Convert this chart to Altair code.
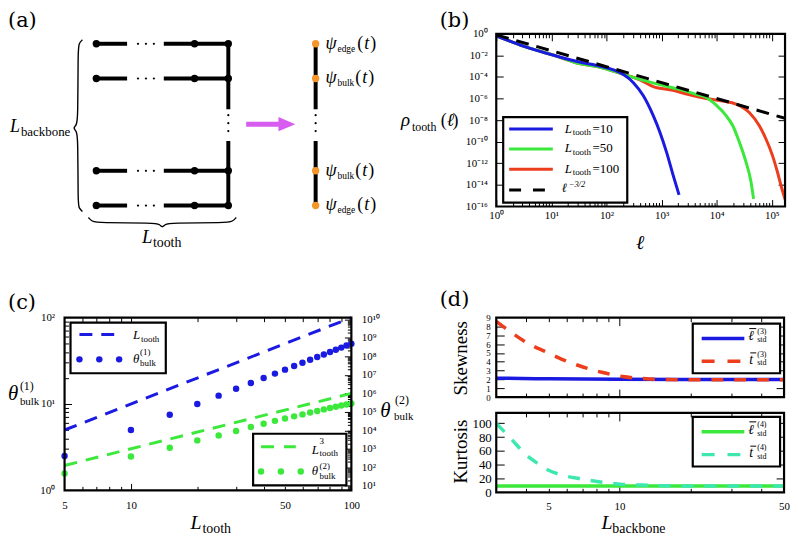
import altair as alt
import pandas as pd

# ---------------- panel (b): rho_tooth(ell) ----------------
ell_L10 = [1, 3.2, 12.8, 33.7, 77.3, 154, 203, 308, 467, 706, 931, 1230, 1618, 2075]
rho_L10 = [6.6e-1, 6.9e-2, 8.3e-3, 2.3e-3, 1.0e-3, 3.5e-4, 1.7e-4, 3.0e-5, 1.8e-6,
           2.6e-8, 7.8e-10, 1.1e-11, 8.1e-14, 1.2e-15]
ell_L50 = [1, 3.2, 12.8, 33.7, 77.3, 203, 406, 813, 1862, 4276, 6471, 9795, 14825,
           19498, 25763, 33963, 41879, 46666]
rho_L50 = [6.6e-1, 6.9e-2, 8.3e-3, 1.66e-3, 8.1e-4, 1.74e-4, 6.0e-5, 2.4e-5, 8.3e-6,
           2.5e-6, 1.26e-6, 2.45e-7, 2.6e-8, 3.2e-9, 9.3e-11, 1.35e-12, 2.0e-14, 5.1e-16]
ell_L100 = [1, 3.2, 12.8, 33.7, 77.3, 203, 406, 706, 1618, 3236, 6471, 12882, 22439,
            38994, 59020, 77983, 102565, 126183, 151356, 178649]
rho_L100 = [6.6e-1, 6.9e-2, 8.3e-3, 1.66e-3, 8.1e-4, 1.74e-4, 5.5e-5, 1.29e-5, 5.9e-6,
            2.2e-6, 1.02e-6, 5.8e-7, 3.1e-7, 5.2e-8, 3.2e-9, 1.9e-10, 5.5e-12, 1.66e-13,
            4.9e-15, 3.2e-16]
ell_ref = [1, 173780]
rho_ref = [0.81, 1.5e-8]
legend_b = ["=10", "=50", "=100"]

# ---------------- panel (c): theta_bulk vs L_tooth ----------------
L_tooth_c = [5, 10, 15, 20, 25, 30, 35, 40, 45, 50, 55, 60, 65, 70, 75, 80, 85, 90, 95, 100]
theta1_bulk = [2.5, 5.0, 7.5, 10, 12.5, 15, 17.5, 20, 22.5, 25, 27.5, 30, 32.5, 35, 37.5,
               40, 42.5, 45, 47.5, 50]
theta2_bulk = [46, 380, 1150, 2850, 5300, 9100, 15000, 22500, 32600, 43400, 56900, 72900,
               91200, 112000, 136000, 163000, 189000, 219000, 251000, 284000]
fit_x = [5, 100]
fit_L1 = [5, 100]
fit_L3 = [125, 1.0e6]

# ---------------- panel (d): skewness / kurtosis ----------------
Lb_t3 = [3.0, 3.5, 4.1, 4.9, 5.7, 7.0, 8.5, 10.3, 12.5, 15.2, 21, 30, 50]
t3_std = [8.58, 7.27, 6.07, 5.1, 4.28, 3.41, 2.78, 2.33, 2.1, 1.99, 1.96, 1.95, 1.95]
Lb_l3 = [3, 5, 10, 20, 50]
l3_std = [2.14, 2.07, 2.02, 2.0, 2.0]
Lb_t4 = [3.0, 3.5, 4.0, 4.4, 5.0, 5.7, 7.0, 8.5, 10.3, 12.5, 15.2, 20, 30, 50]
t4_std = [100, 76, 55, 44, 32, 25, 19, 14.4, 11.5, 10.5, 9.6, 9.2, 9.0, 9.0]
Lb_l4 = [3, 50]
l4_std = [9.3, 9.3]

# ---------------- panel (a): comb diagram (diagram units) ----------------
tooth_rows = [42, 77, 170, 205]
tooth_segments = [(97, 128), (165, 230)]
tooth_nodes_x = [97, 196, 230]
ellipsis_x = [139, 147, 155]
backbone_x = 230
chain_x = 318
spine_segments = [(42, 108), (140, 205)]
vdots_y = [114, 122, 130]
brace_v_x = [83, 79.5, 78.5, 78.5, 77, 73.5, 77, 78.5, 78.5, 79.5, 83]
brace_v_y = [38, 41.5, 48, 118, 124, 127, 130, 136, 203, 207.5, 211]
brace_h_x = [89, 92.5, 99, 156, 161, 163.5, 166, 171, 228, 234.5, 238]
brace_h_y = [217, 221, 222.5, 222.5, 224, 227.5, 224, 222.5, 222.5, 221, 217]
chain_labels = ["edge", "bulk", "bulk", "edge"]
arrow_x = [248, 283]
arrow_y = 123

# ---------------- styling ----------------
BLUE = "#1a1ae0"
GREEN = "#3be83b"
RED = "#ec3d1c"
CYAN = "#3de8b0"
ORANGE = "#f5962a"
MAGENTA = "#d75cf0"
SERIF = "Liberation Serif"
PFONT = "DejaVu Serif"

OX, OY = 65, 32       # page position of the layer origin
W, H = 726, 462

layers = []
ONE = pd.DataFrame({"k": [0]})
SUP = str.maketrans("0123456789-", "⁰¹²³⁴⁵⁶⁷⁸⁹⁻")

sax = alt.Scale(type="linear", domain=[OX, OX + W], range=[0, W], nice=False, zero=False)
say = alt.Scale(type="linear", domain=[OY, OY + H], range=[0, H], nice=False, zero=False)


def p10_expr(exps):
    e = "round(log(datum.value)/LN10)"
    parts = [f"{e} == {k} ? '10{str(k).translate(SUP)}'" for k in exps]
    return " : ".join(parts) + " : ''"


def T(px, py, s, size, italic=False, font=SERIF, align="left", baseline="alphabetic",
      angle=None, color="black"):
    kw = dict(text=s, fontSize=size, font=font, align=align, baseline=baseline, color=color)
    if italic:
        kw["fontStyle"] = "italic"
    if angle is not None:
        kw["angle"] = angle
    layers.append(alt.Chart(ONE).mark_text(**kw).encode(
        x=alt.value(px - OX), y=alt.value(py - OY)))


def RULE(px1, px2, py1, py2, color, width, dash=None):
    kw = dict(color=color, strokeWidth=width)
    if dash:
        kw["strokeDash"] = dash
    layers.append(alt.Chart(ONE).mark_rule(**kw).encode(
        x=alt.value(px1 - OX), x2=alt.value(px2 - OX),
        y=alt.value(py1 - OY), y2=alt.value(py2 - OY)))


def DOT(px, py, color, size):
    layers.append(alt.Chart(ONE).mark_circle(color=color, size=size, opacity=1).encode(
        x=alt.value(px - OX), y=alt.value(py - OY)))


def AX(ch, scale, orient, offset, values, tick=0, labels=False, size=11, pad=3,
       expr=None, fmt=None):
    kw = dict(orient=orient, offset=offset, values=values, grid=False, domain=False,
              labels=labels, labelOverlap=False, labelFlush=False)
    if tick > 0:
        kw.update(ticks=True, tickSize=tick, tickColor="black", tickWidth=1)
    else:
        kw.update(ticks=False, tickSize=0)
    if labels:
        kw.update(labelFont=SERIF, labelFontSize=size, labelColor="black", labelPadding=pad)
    if expr:
        kw["labelExpr"] = expr
    if fmt:
        kw["format"] = fmt
    df = pd.DataFrame({"v": [values[0]]})
    if ch == "x":
        enc = {"x": alt.X("v:Q", scale=scale, axis=alt.Axis(**kw), title=None)}
    else:
        enc = {"y": alt.Y("v:Q", scale=scale, axis=alt.Axis(**kw), title=None)}
    layers.append(alt.Chart(df).mark_point(opacity=0).encode(**enc))


def ticks_box(sx, sy, left, right, top, bottom, xmaj, xmin, ymaj, ymin, tmaj=7, tmin=4,
              y_left=True, y_right=True):
    for vals, t in ((xmaj, tmaj), (xmin, tmin)):
        if vals:
            AX("x", sx, "bottom", bottom - t - H, vals, tick=t)
            AX("x", sx, "top", -(top + t), vals, tick=t)
    for vals, t in ((ymaj, tmaj), (ymin, tmin)):
        if vals:
            if y_left:
                AX("y", sy, "left", -(left + t), vals, tick=t)
            if y_right:
                AX("y", sy, "right", right - t - W, vals, tick=t)


def OUTLINES(boxes, width=2.2, fill=False):
    """Closed rectangular outlines drawn as line paths (page coordinates)."""
    if fill:
        dfr = pd.DataFrame([{"x1": a, "y1": b, "x2": c, "y2": d} for a, b, c, d in boxes])
        layers.append(alt.Chart(dfr).mark_rect(color="white", opacity=1).encode(
            x=alt.X("x1:Q", scale=sax, axis=None), x2="x2:Q",
            y=alt.Y("y1:Q", scale=say, axis=None), y2="y2:Q"))
    pts = []
    for k, (a, b, c, d) in enumerate(boxes):
        for i, (x, y) in enumerate(((a, b), (c, b), (c, d), (a, d), (a, b))):
            pts.append({"x": x, "y": y, "i": i, "box": k})
    layers.append(alt.Chart(pd.DataFrame(pts)).mark_line(
        color="black", strokeWidth=width, strokeJoin="miter", strokeCap="square").encode(
        x=alt.X("x:Q", scale=sax, axis=None), y=alt.Y("y:Q", scale=say, axis=None),
        order="i:Q", detail="box:N"))


# ================= scales =================
sbx = alt.Scale(type="log", domain=[1, 10 ** 5.24], range=[435, 726], nice=False)
sby = alt.Scale(type="log", domain=[1e-16, 1], range=[174, 0], nice=False)
scx = alt.Scale(type="log", domain=[5, 100], range=[0, 289], nice=False)
scy = alt.Scale(type="log", domain=[1, 100], range=[460, 286], nice=False)
scy2 = alt.Scale(type="log", domain=[10 ** 0.75, 10 ** 10.1], range=[460, 286], nice=False)
sdx = alt.Scale(type="log", domain=[3, 50], range=[435, 725], nice=False)
sdy1 = alt.Scale(type="linear", domain=[0, 9], range=[366, 286], nice=False, zero=False)
sdy2 = alt.Scale(type="linear", domain=[0, 115], range=[462, 382], nice=False, zero=False)

# ================= axes: (b) =================
b_xmaj = [1, 10, 100, 1000, 1e4, 1e5]
b_xmin = [k * 10 ** e for e in range(0, 6) for k in range(2, 10) if k * 10 ** e < 10 ** 5.24]
b_ymaj = [10.0 ** -e for e in range(0, 17, 2)]
AX("x", sbx, "bottom", 174 - H, b_xmaj, labels=True, pad=3, expr=p10_expr(range(0, 6)))
AX("y", sby, "left", -435, b_ymaj, labels=True, pad=9, expr=p10_expr(range(-16, 1, 2)))
ticks_box(sbx, sby, 435, 726, 0, 174, b_xmaj, b_xmin, b_ymaj[1:-1], None)

# ================= axes: (c) =================
c_xmin = [6, 7, 8, 9, 20, 30, 40, 50, 60, 70, 80, 90]
c_ymin = [2, 3, 4, 5, 6, 7, 8, 9, 20, 30, 40, 50, 60, 70, 80, 90]
c_y2maj = [10.0 ** e for e in range(1, 11)]
c_y2min = [k * 10.0 ** e for e in range(0, 10) for k in range(2, 10)
           if 10 ** 0.75 < k * 10.0 ** e < 10 ** 10.1]
AX("x", scx, "bottom", 460 - H, [5, 10, 50, 100], labels=True, pad=9, fmt="d")
AX("y", scy, "left", 0, [1, 10, 100], labels=True, pad=10, expr=p10_expr([0, 1, 2]))
AX("y", scy2, "right", 289 - W, c_y2maj, labels=True, pad=10, expr=p10_expr(range(1, 11)))
ticks_box(scx, scy, 0, 289, 286, 460, [10], c_xmin, [10], c_ymin, y_right=False)
AX("y", scy2, "right", 289 - 7 - W, c_y2maj, tick=7)
AX("y", scy2, "right", 289 - 4 - W, c_y2min, tick=4)

# ================= axes: (d) =================
d_xmin = [4, 5, 6, 7, 8, 9, 20, 30, 40]
AX("x", sdx, "bottom", 0, [5, 10, 50], labels=True, pad=8, fmt="d")
AX("y", sdy1, "left", -435, list(range(0, 10)), labels=True, size=9, pad=6, fmt="d")
AX("y", sdy2, "left", -435, [0, 20, 40, 60, 80, 100], labels=True, size=13, pad=5, fmt="d")
ticks_box(sdx, sdy1, 435, 725, 286, 366, [10], d_xmin, list(range(1, 9)), None,
          tmaj=8, tmin=4)
ticks_box(sdx, sdy2, 435, 725, 382, 462, [10], d_xmin, [20, 40, 60, 80, 100], None,
          tmaj=8, tmin=4)

# ================= panel (a) diagram =================
seg_rows = []
for r in tooth_rows:
    for a, b in tooth_segments:
        seg_rows.append({"x1": a, "x2": b, "y1": r, "y2": r})
for xx in (backbone_x, chain_x):
    for a, b in spine_segments:
        seg_rows.append({"x1": xx, "x2": xx, "y1": a, "y2": b})
layers.append(alt.Chart(pd.DataFrame(seg_rows)).mark_rule(color="black", strokeWidth=4).encode(
    x=alt.X("x1:Q", scale=sax, axis=None), x2="x2:Q",
    y=alt.Y("y1:Q", scale=say, axis=None), y2="y2:Q"))

small = [{"x": x, "y": r} for r in tooth_rows for x in ellipsis_x]
small += [{"x": xx, "y": y} for xx in (backbone_x, chain_x) for y in vdots_y]
layers.append(alt.Chart(pd.DataFrame(small)).mark_circle(color="black", size=5, opacity=1).encode(
    x=alt.X("x:Q", scale=sax, axis=None), y=alt.Y("y:Q", scale=say, axis=None)))

nodes = [{"x": x, "y": r} for r in tooth_rows for x in tooth_nodes_x]
layers.append(alt.Chart(pd.DataFrame(nodes)).mark_circle(color="black", size=55, opacity=1).encode(
    x=alt.X("x:Q", scale=sax, axis=None), y=alt.Y("y:Q", scale=say, axis=None)))
onodes = [{"x": chain_x, "y": r} for r in tooth_rows]
layers.append(alt.Chart(pd.DataFrame(onodes)).mark_circle(color=ORANGE, size=55, opacity=1).encode(
    x=alt.X("x:Q", scale=sax, axis=None), y=alt.Y("y:Q", scale=say, axis=None)))

for bx_, by_ in ((brace_v_x, brace_v_y), (brace_h_x, brace_h_y)):
    dfb = pd.DataFrame({"x": bx_, "y": by_, "i": list(range(len(bx_)))})
    layers.append(alt.Chart(dfb).mark_line(color="black", strokeWidth=1.4, interpolate="basis").encode(
        x=alt.X("x:Q", scale=sax, axis=None), y=alt.Y("y:Q", scale=say, axis=None),
        order="i:Q"))

dfa = pd.DataFrame({"x1": [arrow_x[0]], "x2": [arrow_x[1]], "y": [arrow_y]})
layers.append(alt.Chart(dfa).mark_rule(color=MAGENTA, strokeWidth=5).encode(
    x=alt.X("x1:Q", scale=sax, axis=None), x2="x2:Q", y=alt.Y("y:Q", scale=say, axis=None)))
dfh = pd.DataFrame({"x": [arrow_x[1] + 6], "y": [arrow_y]})
layers.append(alt.Chart(dfh).mark_point(shape="M -1 -0.85 L 1 0 L -1 0.85 Z", filled=True,
                                        color=MAGENTA, size=290, opacity=1).encode(
    x=alt.X("x:Q", scale=sax, axis=None), y=alt.Y("y:Q", scale=say, axis=None)))

# ================= panel (b) curves =================
for xs, ys, col in ((ell_L100, rho_L100, RED), (ell_L50, rho_L50, GREEN), (ell_L10, rho_L10, BLUE)):
    layers.append(alt.Chart(pd.DataFrame({"x": xs, "y": ys})).mark_line(
        color=col, strokeWidth=3, interpolate="monotone", clip=True).encode(
        x=alt.X("x:Q", scale=sbx, axis=None), y=alt.Y("y:Q", scale=sby, axis=None)))
layers.append(alt.Chart(pd.DataFrame({"x": ell_ref, "y": rho_ref})).mark_line(
    color="black", strokeWidth=3, strokeDash=[13, 8], clip=True).encode(
    x=alt.X("x:Q", scale=sbx, axis=None), y=alt.Y("y:Q", scale=sby, axis=None)))

# ================= panel (c) =================
layers.append(alt.Chart(pd.DataFrame({"x": fit_x, "y": fit_L1})).mark_line(
    color=BLUE, strokeWidth=3, strokeDash=[13, 9]).encode(
    x=alt.X("x:Q", scale=scx, axis=None), y=alt.Y("y:Q", scale=scy, axis=None)))
layers.append(alt.Chart(pd.DataFrame({"x": L_tooth_c, "y": theta1_bulk})).mark_circle(
    color=BLUE, size=42, opacity=1).encode(
    x=alt.X("x:Q", scale=scx, axis=None), y=alt.Y("y:Q", scale=scy, axis=None)))
layers.append(alt.Chart(pd.DataFrame({"x": fit_x, "y": fit_L3})).mark_line(
    color=GREEN, strokeWidth=3, strokeDash=[13, 9]).encode(
    x=alt.X("x:Q", scale=scx, axis=None), y=alt.Y("y:Q", scale=scy2, axis=None)))
layers.append(alt.Chart(pd.DataFrame({"x": L_tooth_c, "y": theta2_bulk})).mark_circle(
    color=GREEN, size=42, opacity=1).encode(
    x=alt.X("x:Q", scale=scx, axis=None), y=alt.Y("y:Q", scale=scy2, axis=None)))

# ================= panel (d) =================
for xs, ys, col, sy, dash in ((Lb_l3, l3_std, BLUE, sdy1, None), (Lb_t3, t3_std, RED, sdy1, [12, 11]),
                              (Lb_l4, l4_std, GREEN, sdy2, None), (Lb_t4, t4_std, CYAN, sdy2, [12, 11])):
    kw = dict(color=col, strokeWidth=3.5, interpolate="monotone")
    if dash:
        kw["strokeDash"] = dash
    layers.append(alt.Chart(pd.DataFrame({"x": xs, "y": ys})).mark_line(**kw).encode(
        x=alt.X("x:Q", scale=sdx, axis=None), y=alt.Y("y:Q", scale=sy, axis=None)))

# ================= legends =================
OUTLINES([(507, 116, 632, 202), (71, 323, 167, 374), (255, 435, 349, 487),
          (698, 324, 786, 374), (698, 418, 786, 468)], fill=True)
# (b)
rows_b = [128, 148, 168.5, 189.3]
for yy, col, lab in zip(rows_b[:3], (BLUE, GREEN, RED), legend_b):
    RULE(513, 557, yy, yy, col, 3)
    T(569, yy + 3.5, "L", 13, italic=True)
    T(577, yy + 6, "tooth", 9)
    T(597, yy + 3.5, lab, 13)
RULE(513, 557, rows_b[3], rows_b[3], "black", 3, dash=[12, 12])
T(566, rows_b[3] + 2.5, "ℓ", 13, italic=True)
T(573, rows_b[3] - 3, "−3/2", 8.5, italic=True)

# (c) upper-left
RULE(80, 115, 335, 335, BLUE, 3, dash=[13, 9])
for xx in (80, 100, 120):
    DOT(xx, 360, BLUE, 42)
T(134, 340, "L", 13, italic=True)
T(142, 343, "tooth", 9)
T(134, 364, "θ", 13, italic=True)
T(141, 356, "(1)", 9)
T(141, 367, "bulk", 9)
# (c) lower-right
RULE(263, 298, 448, 448, GREEN, 3, dash=[13, 10])
for xx in (263, 283, 303):
    DOT(xx, 473, GREEN, 42)
T(314, 455, "L", 13, italic=True)
T(322, 445, "3", 9)
T(322, 457, "tooth", 9)
T(314, 477, "θ", 13, italic=True)
T(322, 470, "(2)", 9)
T(322, 481, "bulk", 9)

# (d)
for top, c1, c2, n in ((324, BLUE, RED, "3"), (418, GREEN, CYAN, "4")):
    RULE(707, 750, top + 15, top + 15, c1, 3.5)
    RULE(707, 746, top + 38, top + 38, c2, 3.5, dash=[13, 13])
    T(754, top + 17, "ℓ", 14, italic=True)
    RULE(755, 762, top + 5, top + 5, "black", 1)
    T(763, top + 10.5, f"({n})", 8)
    T(763, top + 19, "std", 8)
    T(755, top + 40.5, "t", 14, italic=True)
    RULE(756, 762, top + 29.5, top + 29.5, "black", 1)
    T(763, top + 33.5, f"({n})", 8)
    T(763, top + 42, "std", 8)

# ================= plot frames =================
OUTLINES([(500, 32, 791, 206), (65, 318, 354, 492), (500, 318, 790, 398), (500, 414, 790, 494)])

# ================= texts =================
T(8, 25, "(a)", 21, font=PFONT)
T(443, 25, "(b)", 21, font=PFONT)
T(8, 309, "(c)", 21, font=PFONT)
T(443, 306, "(d)", 21, font=PFONT)

# (a)
T(10, 131, "L", 18, italic=True)
T(21, 135, "backbone", 13)
T(143, 243, "L", 19, italic=True)
T(154, 247, "tooth", 14)
for r, lab in zip(tooth_rows, chain_labels):
    T(328, r + 5, "ψ", 18, italic=True)
    T(340, r + 8, lab, 9.5)
    off = 360 if lab == "edge" else 358
    T(off, r + 5, "(", 18)
    T(off + 7, r + 5, "t", 18, italic=True)
    T(off + 13, r + 5, ")", 18)

# (b)
T(404, 125, "ρ", 19, italic=True)
T(415, 130, "tooth", 12)
T(444, 125, "(", 18)
T(450, 125, "ℓ", 18, italic=True)
T(456, 125, ")", 18)
T(645, 249, "ℓ", 20, italic=True, align="center")

# (c)
T(8, 401, "θ", 21, italic=True)
T(20, 391, "(1)", 12)
T(20, 406, "bulk", 11)
T(383, 418, "θ", 21, italic=True)
T(398, 405, "(2)", 12)
T(397, 421, "bulk", 11)
T(192, 531, "L", 20, italic=True)
T(204, 535, "tooth", 14)

# (d)
T(465, 359, "Skewness", 19, angle=270, align="center", baseline="middle")
T(465, 453, "Kurtosis", 19, angle=270, align="center", baseline="middle")
T(606, 531, "L", 20, italic=True)
T(617, 535, "backbone", 14)

# fixed picture size: svg spans page x 8..796 and y 8..540
PAD = {"left": OX - 8, "top": OY - 8, "right": 796 - (OX + W), "bottom": 540 - (OY + H)}

chart = alt.layer(*layers).resolve_scale(x="independent", y="independent").properties(
    width=W, height=H, padding=PAD, autosize=alt.AutoSizeParams(type="none")
).configure_view(strokeWidth=0, stroke="transparent")

chart.save("out.html", embed_options={"renderer": "svg", "actions": False})
